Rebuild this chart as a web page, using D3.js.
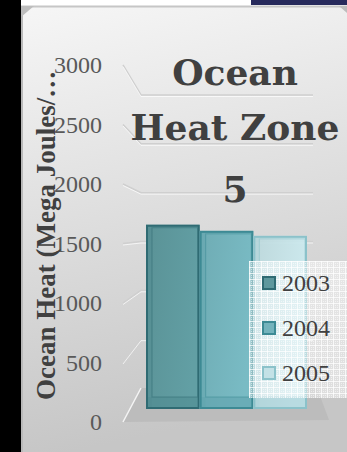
<!DOCTYPE html>
<html>
<head>
<meta charset="utf-8">
<script src="https://cdn.jsdelivr.net/npm/d3@7/dist/d3.min.js"></script>
<style>
  html, body { margin: 0; padding: 0; background: #000; }
  svg { display: block; }
</style>
</head>
<body>
<svg id="chart" width="347" height="452"></svg>
<script>
// Ocean heat per year, zone 5
const years = ["2003", "2004", "2005"];
const heatValues = [1660, 1605, 1560];
const tickValues = [0, 500, 1000, 1500, 2000, 2500, 3000];
const titleLines = ["Ocean", "Heat Zone", "5"];
const axisTitle = "Ocean Heat (Mega Joules/…";

const barFill = ["#5e989d", "#74b3bc", "#c3e1e6"];
const barStroke = ["#2f6b73", "#3d8a94", "#8bc2ca"];
const barInner = ["#4f8a90", "#5ea3ad", "#a9d2d8"];

const W = 347, H = 452;
const svg = d3.select("#chart");
const defs = svg.append("defs");

// panel background gradient
const bg = defs.append("linearGradient").attr("id", "panelGrad")
  .attr("x1", 0).attr("y1", 0).attr("x2", 0.15).attr("y2", 1);
bg.append("stop").attr("offset", "0%").attr("stop-color", "#f6f6f6");
bg.append("stop").attr("offset", "50%").attr("stop-color", "#dedede");
bg.append("stop").attr("offset", "100%").attr("stop-color", "#c6c6c6");

// legend fill: translucent white grid
const pat = defs.append("pattern").attr("id", "legendPat")
  .attr("width", 6).attr("height", 6).attr("patternUnits", "userSpaceOnUse")
  .attr("x", 249).attr("y", 261);
pat.append("rect").attr("width", 6).attr("height", 6).attr("fill", "rgba(255,255,255,0.42)");
pat.append("rect").attr("width", 6).attr("height", 1).attr("fill", "rgba(255,255,255,0.75)");
pat.append("rect").attr("width", 1).attr("height", 6).attr("fill", "rgba(255,255,255,0.75)");
[[2, 2], [4, 4], [2, 4], [4, 2]].forEach(([px, py]) =>
  pat.append("rect").attr("x", px).attr("y", py).attr("width", 1).attr("height", 1)
    .attr("fill", "rgba(255,255,255,0.55)"));

// bar face gradients
barFill.forEach((c, i) => {
  const g = defs.append("linearGradient").attr("id", "barGrad" + i)
    .attr("x1", 0).attr("y1", 0).attr("x2", 1).attr("y2", 0.3);
  g.append("stop").attr("offset", "0%").attr("stop-color", d3.color(c).darker(0.12));
  g.append("stop").attr("offset", "100%").attr("stop-color", d3.color(c).brighter(0.12));
});

// frame: dark left strip, top strip, panel
svg.append("rect").attr("x", 0).attr("y", 0).attr("width", W).attr("height", H).attr("fill", "#000");
svg.append("rect").attr("x", 21).attr("y", 0).attr("width", 230).attr("height", 6).attr("fill", "#fff");
svg.append("rect").attr("x", 251).attr("y", 0).attr("width", 96).attr("height", 5).attr("fill", "#272a5c");
svg.append("rect").attr("x", 251).attr("y", 5).attr("width", 96).attr("height", 1).attr("fill", "#fff");
svg.append("rect").attr("x", 21).attr("y", 6).attr("width", W - 21).attr("height", H - 6)
  .attr("fill", "url(#panelGrad)");
svg.append("line").attr("x1", 22).attr("x2", 22).attr("y1", 6).attr("y2", H)
  .attr("stroke", "#b9b9b9").attr("stroke-width", 2);
svg.append("line").attr("x1", 21).attr("x2", W).attr("y1", 6.5).attr("y2", 6.5)
  .attr("stroke", "#c6c6c6").attr("stroke-width", 2);
svg.append("path").attr("d", "M21,6 L34,6 L21,17 Z").attr("fill", "#bdbdbd");
svg.append("path").attr("d", "M339,6 L347,6 L347,13 Z").attr("fill", "#bdbdbd");

// depth planes of the 3D plot
const yFront = d3.scaleLinear().domain([0, 3000]).range([422, 65]);
const yBack = d3.scaleLinear().domain([0, 3000]).range([388, 95]);
const yBar = d3.scaleLinear().domain([0, 3000]).range([409, 76]);
const x = d3.scaleBand().domain(years).range([146, 307]).paddingInner(0);
const xSideFront = 123, xSideBack = 141, xWallRight = 313;

// floor
const floorPts = [
  [xSideFront, yFront(0)], [xSideBack, yBack(0)],
  [xWallRight + 4, yBack(0)], [329, yFront(0) - 2]
];
svg.append("path").attr("d", d3.line()(floorPts) + "Z").attr("fill", "#bcbcbc");
svg.append("line").attr("x1", xSideFront).attr("y1", yFront(0))
  .attr("x2", xSideBack).attr("y2", yBack(0))
  .attr("stroke", "#f4f4f4").attr("stroke-width", 1.5);

// gridlines on the side wall and back wall
const grid = svg.append("g");
tickValues.filter(v => v > 0).forEach(v => {
  const d = d3.line()([[xSideFront, yFront(v)], [xSideBack, yBack(v)], [xWallRight, yBack(v)]]);
  grid.append("path").attr("d", d).attr("fill", "none")
    .attr("stroke", "#cfcfcf").attr("stroke-width", 1.5);
  grid.append("path").attr("d", d).attr("fill", "none")
    .attr("transform", "translate(0,1.5)")
    .attr("stroke", "rgba(255,255,255,0.7)").attr("stroke-width", 1);
});

// value axis labels
const axis = d3.axisLeft(yFront).tickValues(tickValues).tickSize(0).tickPadding(0)
  .tickFormat(d3.format("d"));
const axG = svg.append("g").attr("transform", "translate(102,0)").call(axis);
axG.select(".domain").remove();
axG.selectAll("text")
  .attr("font-family", "'Liberation Serif', serif").attr("font-size", 24)
  .attr("fill", "#595959");

// bars as glass boxes
const bars = svg.append("g").selectAll("g").data(years).join("g");
bars.each(function (yr, i) {
  const g = d3.select(this);
  const x0 = x(yr), w = x.bandwidth();
  const top = yBar(heatValues[i]), bot = yBar(0);
  g.append("rect").attr("x", x0).attr("y", top).attr("width", w).attr("height", bot - top)
    .attr("fill", "url(#barGrad" + i + ")").attr("opacity", i === 2 ? 0.92 : 1);
  // bottom and left inner faces
  g.append("rect").attr("x", x0 + 1).attr("y", bot - 12).attr("width", w - 2).attr("height", 11)
    .attr("fill", barInner[i]).attr("opacity", 0.55);
  g.append("rect").attr("x", x0 + 1).attr("y", top + 1).attr("width", 5).attr("height", bot - top - 2)
    .attr("fill", barInner[i]).attr("opacity", 0.35);
  // back edges
  g.append("rect").attr("x", x0 + 6).attr("y", top + 3).attr("width", w - 8).attr("height", bot - top - 15)
    .attr("fill", "none").attr("stroke", barStroke[i]).attr("stroke-opacity", 0.55).attr("stroke-width", 1);
  // front edges
  g.append("rect").attr("x", x0 + 1).attr("y", top + 1).attr("width", w - 2).attr("height", bot - top - 2)
    .attr("fill", "none").attr("stroke", barStroke[i]).attr("stroke-width", 2);
});

// title
const title = svg.append("text").attr("text-anchor", "middle")
  .attr("font-family", "'DejaVu Serif', serif").attr("font-weight", "bold")
  .attr("font-size", 36).attr("fill", "#404040");
const titleBase = [85, 140, 202];
titleLines.forEach((t, i) => title.append("tspan").attr("x", 235).attr("y", titleBase[i]).text(t));

// axis title
svg.append("text").attr("transform", "translate(55,400) rotate(-90)")
  .attr("font-family", "'Liberation Serif', serif").attr("font-weight", "bold")
  .attr("font-size", 27).attr("fill", "#404040").text(axisTitle);

// legend
const legend = svg.append("g");
legend.append("rect").attr("x", 249).attr("y", 261).attr("width", 100).attr("height", 137)
  .attr("fill", "url(#legendPat)");
const ly = d3.scalePoint().domain(years).range([283, 373]);
const items = legend.selectAll("g.item").data(years).join("g").attr("class", "item")
  .attr("transform", d => `translate(0,${ly(d)})`);
items.append("rect").attr("x", 263).attr("y", -6).attr("width", 12).attr("height", 12)
  .attr("fill", (d, i) => barFill[i]).attr("stroke", (d, i) => barStroke[i]).attr("stroke-width", 2);
items.append("text").attr("x", 282).attr("y", 8)
  .attr("font-family", "'Liberation Serif', serif").attr("font-size", 24)
  .attr("fill", "#404040").text(d => d);
</script>
</body>
</html>
